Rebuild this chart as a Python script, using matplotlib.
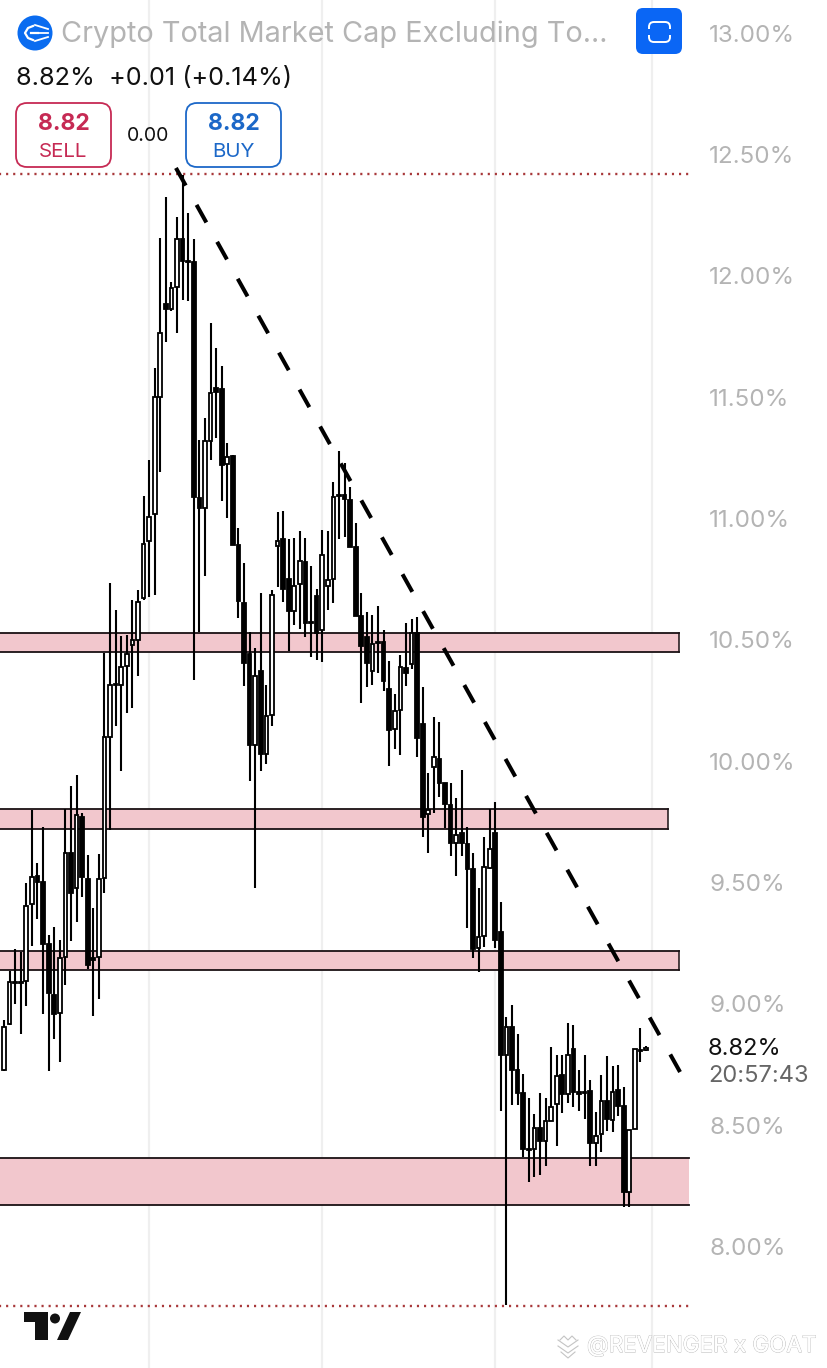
import matplotlib
matplotlib.use("Agg")
import matplotlib.pyplot as plt
from matplotlib.patches import FancyBboxPatch, Circle, Polygon, Rectangle
import matplotlib.patheffects as pe

plt.rcParams['font.family'] = ['Inter', 'DejaVu Sans']

# candles, in percent
opens = [8.727,8.917,9.086,9.086,9.094,9.411,9.527,9.502,9.246,9.036,8.962,9.193,9.621,9.477,9.770,9.514,9.189,9.193,9.518,10.099,
         10.314,10.314,10.392,10.478,10.499,10.672,10.907,11.018,11.500,11.883,11.863,11.954,12.151,12.056,12.056,11.084,11.043,11.319,11.537,11.533,
         11.224,11.257,10.890,10.651,10.441,10.066,10.371,10.029,10.190,10.886,10.915,10.750,10.618,10.730,10.820,10.573,10.680,10.540,10.721,10.750,
         11.092,11.097,11.076,10.882,10.598,10.511,10.371,10.487,10.491,10.297,10.132,10.211,10.384,10.400,10.528,10.153,9.782,9.976,10.009,9.910,
         9.819,9.663,9.704,9.659,9.556,9.230,9.279,9.560,9.704,9.296,8.789,8.905,8.727,8.632,8.402,8.402,8.488,8.435,8.517,8.587,
         8.707,8.628,8.814,8.637,8.632,8.641,8.427,8.464,8.600,8.521,8.645,8.579,8.225,8.484,8.806,8.810]
highs = [8.933,9.135,9.226,9.214,9.498,9.799,9.580,9.729,9.284,9.317,9.263,9.803,9.897,9.943,9.786,9.613,9.395,9.617,10.445,10.734,
         10.623,10.516,10.520,10.664,10.705,11.092,11.241,11.620,12.155,12.324,11.974,12.242,12.415,12.258,12.151,11.323,11.414,11.805,11.702,11.628,
         11.311,11.261,10.960,10.816,10.532,10.466,10.693,10.314,10.705,11.026,11.030,10.915,10.919,10.948,10.919,10.804,10.709,10.952,10.948,11.150,
         11.278,11.228,11.129,10.981,10.693,10.614,10.602,10.639,10.540,10.413,10.277,10.437,10.569,10.586,10.594,10.305,9.951,10.182,10.161,9.910,
         9.910,9.848,9.963,9.729,9.621,9.477,9.687,9.803,9.832,9.420,8.946,8.995,8.876,8.711,8.612,8.546,8.632,8.612,8.822,8.789,
         8.789,8.921,8.913,8.727,8.789,8.686,8.554,8.707,8.785,8.744,8.748,8.657,8.480,8.814,8.900,8.826]
lows = [8.723,8.913,8.999,8.876,8.991,9.238,9.349,8.958,8.723,8.855,8.760,9.078,9.259,9.337,9.440,9.143,8.950,9.020,9.457,9.716,
        10.145,9.959,10.198,10.219,10.351,10.664,10.676,10.684,11.191,11.727,11.855,11.764,11.900,11.896,10.334,10.532,10.763,11.241,11.331,11.072,
        11.002,10.890,10.590,10.310,9.918,9.477,9.959,9.988,10.145,10.717,10.656,10.454,10.561,10.544,10.511,10.429,10.417,10.408,10.623,10.651,
        10.915,10.923,10.882,10.598,10.239,10.305,10.314,10.363,10.289,9.980,10.050,10.025,10.310,10.380,10.017,9.687,9.621,9.786,9.852,9.724,
        9.609,9.527,9.609,9.312,9.189,9.131,9.234,9.556,9.230,8.558,7.759,8.583,8.583,8.369,8.266,8.286,8.295,8.332,8.517,8.414,
        8.550,8.591,8.575,8.558,8.525,8.332,8.332,8.389,8.476,8.472,8.538,8.163,8.163,8.484,8.760,8.806]
closes = [8.905,9.090,9.090,9.090,9.403,9.523,9.502,9.246,9.045,8.958,9.189,9.621,9.457,9.778,9.523,9.160,9.181,9.514,10.099,10.314,
          10.318,10.388,10.441,10.499,10.656,10.895,11.006,11.500,11.764,11.863,11.949,12.151,12.061,12.061,11.088,11.043,11.319,11.517,11.521,11.220,
          11.253,10.890,10.660,10.404,10.066,10.351,10.029,10.186,10.684,10.907,10.709,10.618,10.721,10.825,10.569,10.569,10.528,10.849,10.746,11.088,
          11.097,11.080,10.882,10.598,10.474,10.404,10.483,10.491,10.330,10.128,10.207,10.388,10.363,10.528,10.095,9.770,9.799,10.017,9.910,9.823,
          9.663,9.696,9.663,9.556,9.226,9.275,9.564,9.638,9.263,8.789,8.905,8.727,8.632,8.402,8.398,8.488,8.435,8.517,8.575,8.703,
          8.628,8.789,8.637,8.628,8.637,8.427,8.455,8.600,8.525,8.637,8.579,8.225,8.480,8.814,8.810,8.818]

y_ticks = [13.0,12.5,12.0,11.5,11.0,10.5,10.0,9.5,9.0,8.5,8.0]
y_labels = ["13.00%","12.50%","12.00%","11.50%","11.00%","10.50%","10.00%","9.50%","9.00%","8.50%","8.00%"]
grid_idx = [26,57,88,116]

# support zones: low, high, right end (candle index)
zone_low = [10.450,9.720,9.139,8.171]
zone_high = [10.528,9.803,9.218,8.365]
zone_end = [120.9,119.0,120.9,122.7]

trend_x = [30.8,121.1]
trend_y = [12.444,8.719]
top_level = 12.419
bottom_level = 7.755

GREY = "#b4b4b4"
PINK = "#f2c7cd"

fig = plt.figure(figsize=(8.28,13.68),dpi=100)
ax = fig.add_axes([0,0,1,1])
ax.set_xlim(-0.716,147.6)
ax.set_ylim(7.4995,13.136)
for s in ax.spines.values():
    s.set_visible(False)
ax.set_xticks([])
ax.set_yticks(y_ticks)
ax.set_yticklabels(y_labels,color=GREY,fontsize=17.4)
ax.tick_params(axis='y',length=0,left=False,right=False,labelleft=False,labelright=True,pad=-85.5)
for t in ax.get_yticklabels():
    t.set_ha('left')

for g in grid_idx:
    ax.axvline(g,color="#efefef",lw=1.6,zorder=1)

for lo,hi,end in zip(zone_low,zone_high,zone_end):
    ax.fill_between([-1,end],lo,hi,color=PINK,lw=0,zorder=2)
    ax.plot([-1,end],[hi,hi],color="#1a1114",lw=1.3,zorder=2.5)
    ax.plot([-1,end],[lo,lo],color="#1a1114",lw=1.3,zorder=2.5)
for lo,hi,end in zip(zone_low[:3],zone_high[:3],zone_end[:3]):
    ax.plot([end,end],[lo,hi],color="#1a1114",lw=1.1,zorder=2.5)

ax.plot([-1,122.9],[top_level,top_level],color="#a8383a",lw=1.7,ls=(0,(0.9,2.1)),zorder=3)
ax.plot([-1,122.9],[bottom_level,bottom_level],color="#a8383a",lw=1.7,ls=(0,(0.9,2.1)),zorder=3)

xs = list(range(len(opens)))
ax.vlines(xs,lows,highs,color="black",lw=1.5,zorder=4)
for i in xs:
    bottom = min(opens[i],closes[i])
    height = abs(closes[i]-opens[i])
    fill = "white" if closes[i]>=opens[i] else "black"
    ax.bar(i,height,bottom=bottom,width=0.66,color=fill,edgecolor="black",linewidth=1.3,zorder=5)

ax.plot(trend_x,trend_y,color="black",lw=2.9,ls=(0,(5,5.5)),dash_capstyle='butt',zorder=6)

# overlay in picture pixels for the app furniture
ov = fig.add_axes([0,0,1,1],zorder=10)
ov.set_xlim(0,828)
ov.set_ylim(1368,0)
ov.axis('off')
ov.patch.set_alpha(0)

ov.add_patch(Circle((35,33),17.5,color="#0a6cf0",lw=0))
for y0,y1 in [(25,29),(33,33),(41,37)]:
    ov.plot([35,48],[y0,y1],color="white",lw=1.3)
ov.plot([33,28,25,28,33],[26,28,33,38,40],color="white",lw=1.6)
ov.plot([31,38],[33,33],color="white",lw=1.6)
ov.text(61,34,"Crypto Total Market Cap Excluding To...",color=GREY,fontsize=20.8,va='center',ha='left')
ov.text(16,78,"8.82%  +0.01 (+0.14%)",color="#111111",fontsize=18.2,va='center',ha='left')

ov.add_patch(FancyBboxPatch((16,103),95,64,boxstyle="round,pad=0,rounding_size=11",fc="white",ec="#c62a54",lw=1.3))
ov.add_patch(FancyBboxPatch((186,103),95,64,boxstyle="round,pad=0,rounding_size=11",fc="white",ec="#1c68c8",lw=1.3))
ov.text(63.5,124,"8.82",color="#c62a54",fontsize=16.5,fontweight='bold',va='center',ha='center')
ov.text(63.5,152,"SELL",color="#c62a54",fontsize=14.8,va='center',ha='center')
ov.text(233.5,124,"8.82",color="#1c68c8",fontsize=16.5,fontweight='bold',va='center',ha='center')
ov.text(233.5,152,"BUY",color="#1c68c8",fontsize=14.8,va='center',ha='center')
ov.text(148,136,"0.00",color="#111111",fontsize=14,va='center',ha='center')

ov.add_patch(FancyBboxPatch((636,8),46,46,boxstyle="round,pad=0,rounding_size=7",fc="#0a66f5",ec="none"))
ov.add_patch(FancyBboxPatch((649,22),21,20,boxstyle="round,pad=0,rounding_size=5",fc="none",ec="white",lw=1.4))
ov.add_patch(Rectangle((646,29),27,6,fc="#0a66f5",ec="none",zorder=3))

ov.text(708,1049,"8.82%",color="#111111",fontsize=17,va='center',ha='left')
ov.text(708,1076,"20:57:43",color="#666666",fontsize=17,va='center',ha='left')

# tradingview mark
ov.add_patch(Polygon([(24,1312),(48,1312),(48,1340),(35,1340),(35,1322),(24,1322)],color="#111111",lw=0))
ov.add_patch(Circle((55,1318.5),5,color="#111111",lw=0))
ov.add_patch(Polygon([(70,1312),(81,1312),(68,1340),(57,1340)],color="#111111",lw=0))

# watermark
wm = ov.text(587,1346,"@REVENGER x GOAT",color="white",fontsize=16.2,va='center',ha='left')
wm.set_path_effects([pe.withStroke(linewidth=0.8,foreground="#bdbdbd"),pe.Normal()])
for dy in [0,6]:
    ov.plot([558,568,578],[1340+dy,1347+dy,1340+dy],color="#c4c4c4",lw=0.8)
ov.plot([560,564,568,572,576],[1340,1336,1340,1336,1340],color="#c4c4c4",lw=0.8)
ov.plot([561,568,575],[1352,1358,1352],color="#c4c4c4",lw=0.8)

fig.savefig("out.png",dpi=100)
